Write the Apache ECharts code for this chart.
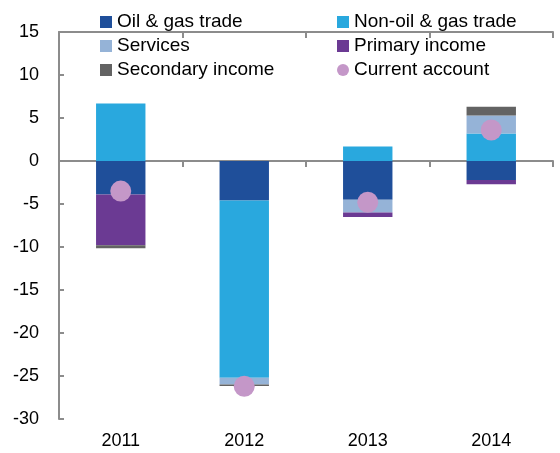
<!DOCTYPE html>
<html>
<head>
<meta charset="utf-8">
<script src="https://cdn.jsdelivr.net/npm/echarts@6/dist/echarts.min.js"></script>
<style>
  html, body { margin: 0; padding: 0; background: #fff; }
  #chart { width: 560px; height: 453px; }
</style>
</head>
<body>
<div id="chart"></div>
<script>
// values
const years = ['2011', '2012', '2013', '2014']
const oilGas = [-3.9, -4.6, -4.5, -2.2]
const nonOilGas = [6.7, -20.6, 1.7, 3.2]
const services = [0, -0.8, -1.5, 2.1]
const primaryIncome = [-5.9, 0, -0.5, -0.5]
const secondaryIncome = [-0.35, -0.15, 0, 1.0]
const currentAccount = [-3.5, -26.2, -4.8, 3.6]
const yTicks = { min: -30, max: 15, step: 5 }

const colors = {
  oil: '#1F4F9A',
  nonOil: '#29A8DE',
  services: '#95B3D7',
  primary: '#6B3A93',
  secondary: '#636363',
  ca: '#C497C8',
  axis: '#8C8C8C'
}

const font = 'Liberation Sans, Arial, sans-serif'

const barSeries = (name, data, color) => ({
  name: name,
  type: 'bar',
  stack: 'ca',
  barWidth: '40%',
  xAxisIndex: 0,
  itemStyle: { color: color },
  data: data
})

const legendText = { fontFamily: font, fontSize: 19, color: '#000', lineHeight: 20 }

const option = {
  animation: false,
  grid: { left: 59, right: 7, top: 32, bottom: 34, containLabel: false },
  legend: [
    {
      left: 95, top: 7, orient: 'vertical', itemWidth: 12, itemHeight: 12, itemGap: 4,
      icon: 'rect',
      textStyle: legendText,
      data: ['Oil & gas trade', 'Services', 'Secondary income']
    },
    {
      left: 332, top: 7, orient: 'vertical', itemWidth: 12, itemHeight: 12, itemGap: 4,
      icon: 'rect',
      textStyle: legendText,
      data: ['Non-oil & gas trade', 'Primary income', { name: 'Current account', icon: 'circle' }]
    }
  ],
  xAxis: [
    {
      type: 'category',
      data: years,
      axisLine: { onZero: true, lineStyle: { color: colors.axis, width: 2 } },
      axisTick: { show: true, length: 6, lineStyle: { color: colors.axis, width: 2 } },
      axisLabel: { show: false }
    },
    {
      type: 'category',
      data: years,
      position: 'bottom',
      axisLine: { show: false, onZero: false },
      axisTick: { show: false },
      axisLabel: { fontFamily: font, fontSize: 18, color: '#000', margin: 13 }
    },
    {
      type: 'category',
      data: years,
      axisLine: { onZero: true, lineStyle: { color: colors.axis, width: 2 } },
      axisTick: { show: true, inside: true, length: 6, lineStyle: { color: colors.axis, width: 2 } },
      axisLabel: { show: false }
    }
  ],
  yAxis: {
    type: 'value',
    min: yTicks.min,
    max: yTicks.max,
    interval: yTicks.step,
    splitLine: { show: false },
    axisLine: { show: true, onZero: false, lineStyle: { color: colors.axis, width: 2 } },
    axisTick: { show: true, inside: true, length: 5, lineStyle: { color: colors.axis, width: 2 } },
    axisLabel: { fontFamily: font, fontSize: 18, color: '#000', margin: 20 }
  },
  series: [
    barSeries('Oil & gas trade', oilGas, colors.oil),
    barSeries('Non-oil & gas trade', nonOilGas, colors.nonOil),
    barSeries('Services', services, colors.services),
    barSeries('Primary income', primaryIncome, colors.primary),
    barSeries('Secondary income', secondaryIncome, colors.secondary),
    {
      name: 'Current account',
      type: 'scatter',
      xAxisIndex: 0,
      symbol: 'circle',
      symbolSize: 21,
      itemStyle: { color: colors.ca, opacity: 1 },
      z: 5,
      data: currentAccount
    }
  ]
}

const chart = echarts.init(document.getElementById('chart'))
chart.setOption(option)
</script>
</body>
</html>
